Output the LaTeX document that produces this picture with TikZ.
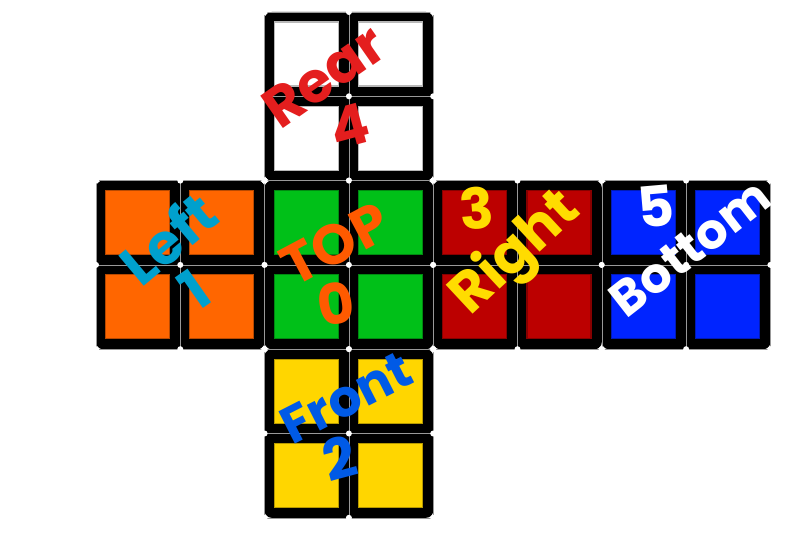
\documentclass[tikz,border=0pt]{standalone}
\usepackage{fontspec}
\setmainfont{Poppins}
\usetikzlibrary{positioning}
\definecolor{cubewhite}{RGB}{255,255,255}
\definecolor{cubeorange}{RGB}{255,102,0}
\definecolor{cubegreen}{RGB}{0,192,24}
\definecolor{cubered}{RGB}{188,0,0}
\definecolor{cubeblue}{RGB}{0,36,255}
\definecolor{cubeyellow}{RGB}{255,214,0}
\definecolor{penred}{RGB}{228,30,30}
\definecolor{pencyan}{RGB}{0,160,205}
\definecolor{penorange}{RGB}{255,90,0}
\definecolor{penyellow}{RGB}{255,220,0}
\definecolor{penblue}{RGB}{0,90,230}

\tikzset{
  facebox/.style={fill=black, rounded corners=6pt},
  sticker/.style={fill=#1, draw=#1!72!black, line width=1pt},
  seam/.style={draw=gray!80, line width=0.2pt},
  knob/.style={fill=white},
  pen/.style={text=#1, font=\fontsize{48}{48}\selectfont\bfseries, inner sep=0pt},
}

% one 2x2 face: column, row, colour
\newcommand{\cubeface}[3]{%
  \fill[facebox] ({96+#1*84.3},{12+#2*84.3}) rectangle ++(168.6,168.6);
  \draw[seam] ({96+#1*84.3},{12+#2*84.3}) rectangle ++(168.6,168.6);
  \draw[seam] ({96+(#1+1)*84.3},{12+#2*84.3}) -- ++(0,168.6);
  \draw[seam] ({96+#1*84.3},{12+(#2+1)*84.3}) -- ++(168.6,0);
  \foreach \i in {0,1} {
    \foreach \j in {0,1} {
      \path[sticker=#3] ({96+(#1+\i)*84.3+9.5},{12+(#2+\j)*84.3+10}) rectangle ++(64,64);
    }
  }
  \foreach \i in {0,1,2} {
    \foreach \j in {0,1,2} {
      \fill[knob] ({96+(#1+\i)*84.3},{12+(#2+\j)*84.3}) circle (3);
    }
  }
}

\begin{document}
\begin{tikzpicture}[x=0.03cm, y=-0.03cm]
  \useasboundingbox[fill=white] (0,0) rectangle (810,535);

  \cubeface{2}{0}{cubewhite}
  \cubeface{0}{2}{cubeorange}
  \cubeface{2}{2}{cubegreen}
  \cubeface{4}{2}{cubered}
  \cubeface{6}{2}{cubeblue}
  \cubeface{2}{4}{cubeyellow}

  % face names and numbers
  \node[pen=penred, rotate=35] (rear) at (324,76) {Rear};
  \node[pen=penred, rotate=15] (rearnum) at (350,126) {4};

  \node[pen=pencyan, rotate=40] (left) at (168,238) {Left};
  \node[pen=pencyan, rotate=35] (leftnum) at (194,290) {1};

  \node[pen=penorange, rotate=28] (top) at (335,244) {TOP};
  \node[pen=penorange, rotate=10] (topnum) at (336,304) {0};

  \node[pen=penyellow, rotate=5] (rightnum) at (477,208) {3};
  \node[pen=penyellow, rotate=43] (right) at (516,254) {Right};

  \node[pen=white, rotate=5] (bottomnum) at (656,206) {5};
  \node[pen=white, rotate=38, font=\fontsize{42}{42}\selectfont\bfseries] (bottom) at (690,248) {Bottom};

  \node[pen=penblue, rotate=27, font=\fontsize{44}{44}\selectfont\bfseries] (front) at (346,398) {Front};
  \node[pen=penblue, rotate=15] (frontnum) at (340,458) {2};
\end{tikzpicture}
\end{document}
